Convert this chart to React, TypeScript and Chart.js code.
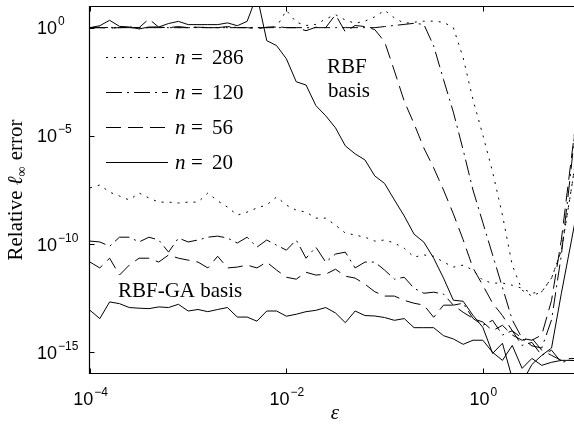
import React, { useEffect, useRef } from "react";
import { Chart, registerables } from "chart.js";

Chart.register(...registerables);

// log10(epsilon) sample grid
const EPS_LOG10 = [
  -4.0, -3.9, -3.8, -3.7, -3.6, -3.5, -3.4, -3.3, -3.2, -3.1,
  -3.0, -2.9, -2.8, -2.7, -2.6, -2.5, -2.4, -2.3, -2.2, -2.1,
  -2.0, -1.9, -1.8, -1.7, -1.6, -1.5, -1.4, -1.3, -1.2, -1.1,
  -1.0, -0.9, -0.8, -0.7, -0.6, -0.5, -0.4, -0.3, -0.2, -0.1,
  0.0, 0.1, 0.2, 0.3, 0.4, 0.5, 0.6, 0.7, 0.8, 0.9,
  1.0,
];

// log10(relative error), RBF (direct) basis
const RBF_N20 = [
  0.0, 0.09, 0.34, 0.06, 0.03, -0.06, 0.03, 0.03, 0.19, 0.29,
  0.14, 0.14, 0.14, 0.14, 0.22, 0.09, 0.29, 1.5, -0.6, -0.83,
  -1.44, -2.5, -2.65, -3.6, -4.07, -4.63, -5.46, -5.83, -6.11, -6.85,
  -7.2, -7.96, -8.7, -9.54, -9.91, -10.65, -11.57, -12.59, -12.64, -13.29,
  -13.84, -15.05, -14.58, -16.2, -16.4, -15.56, -15.14, -14.8, -12.27, -9.9,
  -7.5,
];
const RBF_N56 = [
  0.0, 0.0, -0.02, 0.0, 0.02, 0.0, 0.4, 0.02, 0.0, 0.05,
  0.0, 0.02, 0.0, 0.0, 0.05, 0.0, 0.0, -0.05, 0.02, 0.05,
  0.0, 0.0, -0.14, 0.02, 0.0, 0.6, -0.2, 0.1, 0.05, -0.09,
  -0.65, -2.0, -3.4, -4.44, -5.56, -6.48, -7.5, -8.6, -9.8, -11.1,
  -11.9, -12.73, -13.3, -14.0, -14.35, -14.44, -14.2, -12.6, -9.8, -6.1,
  -2.5,
];
const RBF_N120 = [
  0.0, 0.0, 0.0, 0.0, 0.0, -0.02, 0.0, 0.0, 0.0, 0.0,
  0.0, 0.0, 0.0, 0.0, 0.0, 0.0, 0.0, 0.0, 0.0, 0.0,
  0.0, 0.0, 0.0, 0.0, 0.0, 0.0, 0.0, 0.0, 0.0, 0.0,
  0.05, 0.1, 0.15, 0.2, 0.15, -0.85, -2.4, -3.9, -5.65, -7.5,
  -9.0, -10.5, -12.0, -13.5, -14.35, -14.7, -14.8, -13.5, -10.5, -6.5,
  -2.0,
];
const RBF_N286 = [
  0.0, 0.02, 0.0, 0.0, 0.03, 0.0, 0.0, 0.02, 0.0, 0.0,
  0.0, 0.03, 0.0, 0.0, 0.0, 0.02, 0.0, 0.0, 0.0, 0.03,
  0.8, 0.25, 0.1, 0.15, 0.4, 0.6, 0.35, 0.2, 0.3, 0.5,
  0.8, 0.45, 0.2, 0.25, 0.3, 0.3, 0.25, 0.0, -1.39, -3.33,
  -4.95, -6.67, -8.66, -10.97, -12.13, -12.4, -12.2, -11.57, -10.3, -7.5,
  -4.5,
];

// log10(relative error), RBF-GA basis
const GA_N20 = [
  -13.06, -13.44, -12.67, -12.75, -12.93, -12.96, -12.98, -12.9, -12.93, -12.78,
  -13.09, -13.02, -13.12, -13.02, -12.93, -13.37, -13.37, -13.56, -13.09, -13.09,
  -13.33, -13.24, -13.12, -13.06, -12.93, -13.18, -13.63, -13.09, -13.3, -13.32,
  -13.39, -13.52, -13.44, -13.86, -13.86, -13.86, -14.23, -14.38, -14.63, -14.44,
  -14.44, -15.0, -15.37, -14.68, -15.74, -15.28, -15.6, -15.46, -15.37, -15.37,
  -15.4,
];
const GA_N56 = [
  -10.83, -11.1, -10.65, -11.43, -10.97, -10.65, -10.65, -10.83, -10.5, -10.65,
  -10.74, -10.83, -11.1, -10.56, -11.1, -11.06, -10.97, -11.1, -10.83, -11.2,
  -11.53, -11.62, -11.3, -11.43, -11.39, -11.16, -11.48, -11.57, -11.85, -12.2,
  -12.4, -12.4, -12.6, -12.73, -12.82, -13.38, -12.82, -12.82, -13.15, -13.43,
  -13.6, -14.0, -13.75, -14.2, -14.44, -14.35, -14.9, -15.14, -15.37, -15.28,
  -15.3,
];
const GA_N120 = [
  -9.86, -9.9, -10.1, -9.68, -9.68, -9.9, -9.68, -9.81, -10.37, -9.72,
  -9.9, -9.81, -9.68, -9.63, -9.72, -9.95, -9.68, -10.14, -9.81, -10.05,
  -10.28, -9.81, -10.65, -10.14, -10.83, -10.46, -10.37, -11.1, -10.83, -10.83,
  -11.2, -11.62, -11.53, -12.04, -12.27, -12.22, -12.31, -12.82, -12.73, -13.43,
  -13.75, -13.52, -14.2, -14.0, -14.68, -14.54, -15.14, -14.9, -15.46, -15.37,
  -15.4,
];
const GA_N286 = [
  -7.4, -7.27, -7.6, -7.78, -7.96, -7.64, -7.87, -8.06, -8.06, -8.1,
  -8.06, -8.06, -7.64, -8.0, -8.29, -8.66, -8.52, -8.33, -8.19, -7.82,
  -8.2, -8.43, -8.52, -8.8, -8.8, -9.12, -9.49, -9.58, -9.68, -9.86,
  -9.81, -9.95, -10.19, -10.6, -10.5, -10.56, -10.83, -11.06, -10.97, -11.2,
  -11.67, -11.8, -11.8, -11.9, -12.04, -12.27, -12.2, -11.57, -10.3, -7.5,
  -4.5,
];

const N_LABELS = ["286", "120", "56", "20"];
const X_TICKS = [1e-4, 1e-2, 1];
const X_TICK_EXP = ["\u22124", "\u22122", "0"];
const Y_TICKS = [1, 1e-5, 1e-10, 1e-15];
const Y_TICK_EXP = ["0", "\u22125", "\u221210", "\u221215"];

const DASH: Record<string, number[]> = {
  "20": [],
  "56": [15, 7],
  "120": [16, 5, 2, 5],
  "286": [2, 6],
};

const toPoints = (ys: number[]) =>
  EPS_LOG10.map((e, i) => ({ x: Math.pow(10, e), y: Math.pow(10, ys[i]) }));

const SANS = '"Liberation Sans", Arial, Helvetica, sans-serif';
const SERIF = '"Liberation Serif", "Times New Roman", serif';

const decorPlugin = {
  id: "decor",
  afterDraw(chart: any) {
    const ctx = chart.ctx as CanvasRenderingContext2D;
    const { left, right, top, bottom } = chart.chartArea;
    const xs = chart.scales.x;
    const ys = chart.scales.y;
    ctx.save();
    ctx.strokeStyle = "#000";
    ctx.fillStyle = "#000";
    ctx.setLineDash([]);
    const L = Math.round(left) - 0.5;
    const B = Math.round(bottom) - 0.5;
    const T = Math.round(top) + 0.5;
    const R = Math.round(right) - 0.5;
    const seg = (x1: number, y1: number, x2: number, y2: number) => {
      ctx.beginPath();
      ctx.moveTo(x1, y1);
      ctx.lineTo(x2, y2);
      ctx.stroke();
    };
    ctx.lineWidth = 1.2;
    ctx.beginPath();
    ctx.moveTo(R, T);
    ctx.lineTo(L, T);
    ctx.lineTo(L, B);
    ctx.lineTo(R, B);
    ctx.lineTo(R, T);
    ctx.stroke();
    ctx.lineWidth = 1;
    X_TICKS.forEach((v) => {
      const px = Math.round(xs.getPixelForValue(v)) + 0.5;
      seg(px, B, px, B - 5);
      seg(px, T, px, T + 5);
    });
    Y_TICKS.forEach((v) => {
      const py = Math.round(ys.getPixelForValue(v)) + 0.5;
      seg(L, py, L + 5, py);
      seg(R, py, R - 5, py);
    });

    // tick labels
    ctx.textBaseline = "alphabetic";
    ctx.textAlign = "left";
    X_TICKS.forEach((v, i) => {
      const px = xs.getPixelForValue(v);
      ctx.font = `18px ${SANS}`;
      const w10 = ctx.measureText("10").width;
      ctx.font = `12px ${SANS}`;
      const we = ctx.measureText(X_TICK_EXP[i]).width;
      const x0 = px - (w10 + we) / 2;
      ctx.font = `18px ${SANS}`;
      ctx.fillText("10", x0, 405);
      ctx.font = `12px ${SANS}`;
      ctx.fillText(X_TICK_EXP[i], x0 + w10 + 1, 396);
    });
    Y_TICKS.forEach((v, i) => {
      const py = ys.getPixelForValue(v);
      ctx.font = `18px ${SANS}`;
      const w10 = ctx.measureText("10").width;
      ctx.fillText("10", 37, py + 6.5);
      ctx.font = `12px ${SANS}`;
      ctx.fillText(Y_TICK_EXP[i], 37 + w10 + 1, py - 2.5);
    });

    // x-axis label
    ctx.font = `italic 21px ${SERIF}`;
    ctx.textAlign = "center";
    ctx.fillText("\u03b5", 335, 419);

    // y-axis label (rotated, centred on the axis)
    ctx.save();
    ctx.translate(22, (top + bottom) / 2);
    ctx.rotate(-Math.PI / 2);
    ctx.textAlign = "left";
    const p1 = "Relative ";
    const p3 = " error";
    ctx.font = `21px ${SERIF}`;
    const w1 = ctx.measureText(p1).width;
    const w3 = ctx.measureText(p3).width;
    ctx.font = `italic 21px ${SERIF}`;
    const w2 = ctx.measureText("\u2113").width;
    ctx.font = `14px ${SERIF}`;
    const wInf = ctx.measureText("\u221e").width;
    const total = w1 + w2 + wInf + w3 + 1;
    let cx = -total / 2;
    ctx.font = `21px ${SERIF}`;
    ctx.fillText(p1, cx, 0);
    cx += w1;
    ctx.font = `italic 21px ${SERIF}`;
    ctx.fillText("\u2113", cx, 0);
    cx += w2;
    ctx.font = `14px ${SERIF}`;
    ctx.fillText("\u221e", cx, 4);
    cx += wInf + 1;
    ctx.font = `21px ${SERIF}`;
    ctx.fillText(p3, cx, 0);
    ctx.restore();

    // legend
    const legY = [57, 92, 127, 162];
    N_LABELS.forEach((n, i) => {
      const y = legY[i] + 0.5;
      ctx.setLineDash(DASH[n]);
      ctx.lineWidth = 1;
      seg(106, y, 168, y);
      ctx.setLineDash([]);
      ctx.textAlign = "left";
      ctx.font = `italic 21px ${SERIF}`;
      ctx.fillText("n", 175, y + 6);
      ctx.font = `21px ${SERIF}`;
      ctx.fillText("=", 191, y + 6);
      ctx.fillText(n, 212, y + 6);
    });

    // annotations
    ctx.font = `21px ${SERIF}`;
    ctx.textAlign = "left";
    ctx.fillText("RBF", 327, 73);
    ctx.fillText("basis", 328, 97);
    ctx.fillText("RBF-GA basis", 118, 297);
    ctx.restore();
  },
};

export default function App() {
  const canvasRef = useRef<HTMLCanvasElement | null>(null);

  useEffect(() => {
    if (!canvasRef.current) return;
    const mk = (label: string, n: string, ys: number[]) => ({
      label,
      data: toPoints(ys),
      borderColor: "#000",
      backgroundColor: "#000",
      borderWidth: 1,
      borderDash: DASH[n],
      pointRadius: 0,
      tension: 0,
      fill: false,
    });
    const chart = new Chart(canvasRef.current, {
      type: "line",
      data: {
        datasets: [
          mk("RBF n=286", "286", RBF_N286),
          mk("RBF n=120", "120", RBF_N120),
          mk("RBF n=56", "56", RBF_N56),
          mk("RBF n=20", "20", RBF_N20),
          mk("RBF-GA n=286", "286", GA_N286),
          mk("RBF-GA n=120", "120", GA_N120),
          mk("RBF-GA n=56", "56", GA_N56),
          mk("RBF-GA n=20", "20", GA_N20),
        ],
      },
      options: {
        responsive: false,
        animation: false,
        devicePixelRatio: 1,
        layout: { padding: { left: 0, right: 1, top: 6, bottom: 0 } },
        plugins: { legend: { display: false }, tooltip: { enabled: false } },
        scales: {
          x: {
            type: "logarithmic",
            min: 1e-4,
            max: 10,
            grid: { display: false },
            border: { display: false },
            ticks: { display: false },
            afterFit: (s: any) => {
              s.height = 54;
            },
          },
          y: {
            type: "logarithmic",
            min: 1e-16,
            max: 10,
            grid: { display: false },
            border: { display: false },
            ticks: { display: false },
            afterFit: (s: any) => {
              s.width = 90;
            },
          },
        },
      },
      plugins: [decorPlugin],
    });
    return () => chart.destroy();
  }, []);

  return (
    <div
      style={{
        position: "fixed",
        left: 0,
        top: 0,
        width: 574,
        height: 428,
        overflow: "hidden",
        background: "#fff",
      }}
    >
      <canvas ref={canvasRef} width={582} height={428} style={{ width: 582, height: 428, display: "block" }} />
    </div>
  );
}
